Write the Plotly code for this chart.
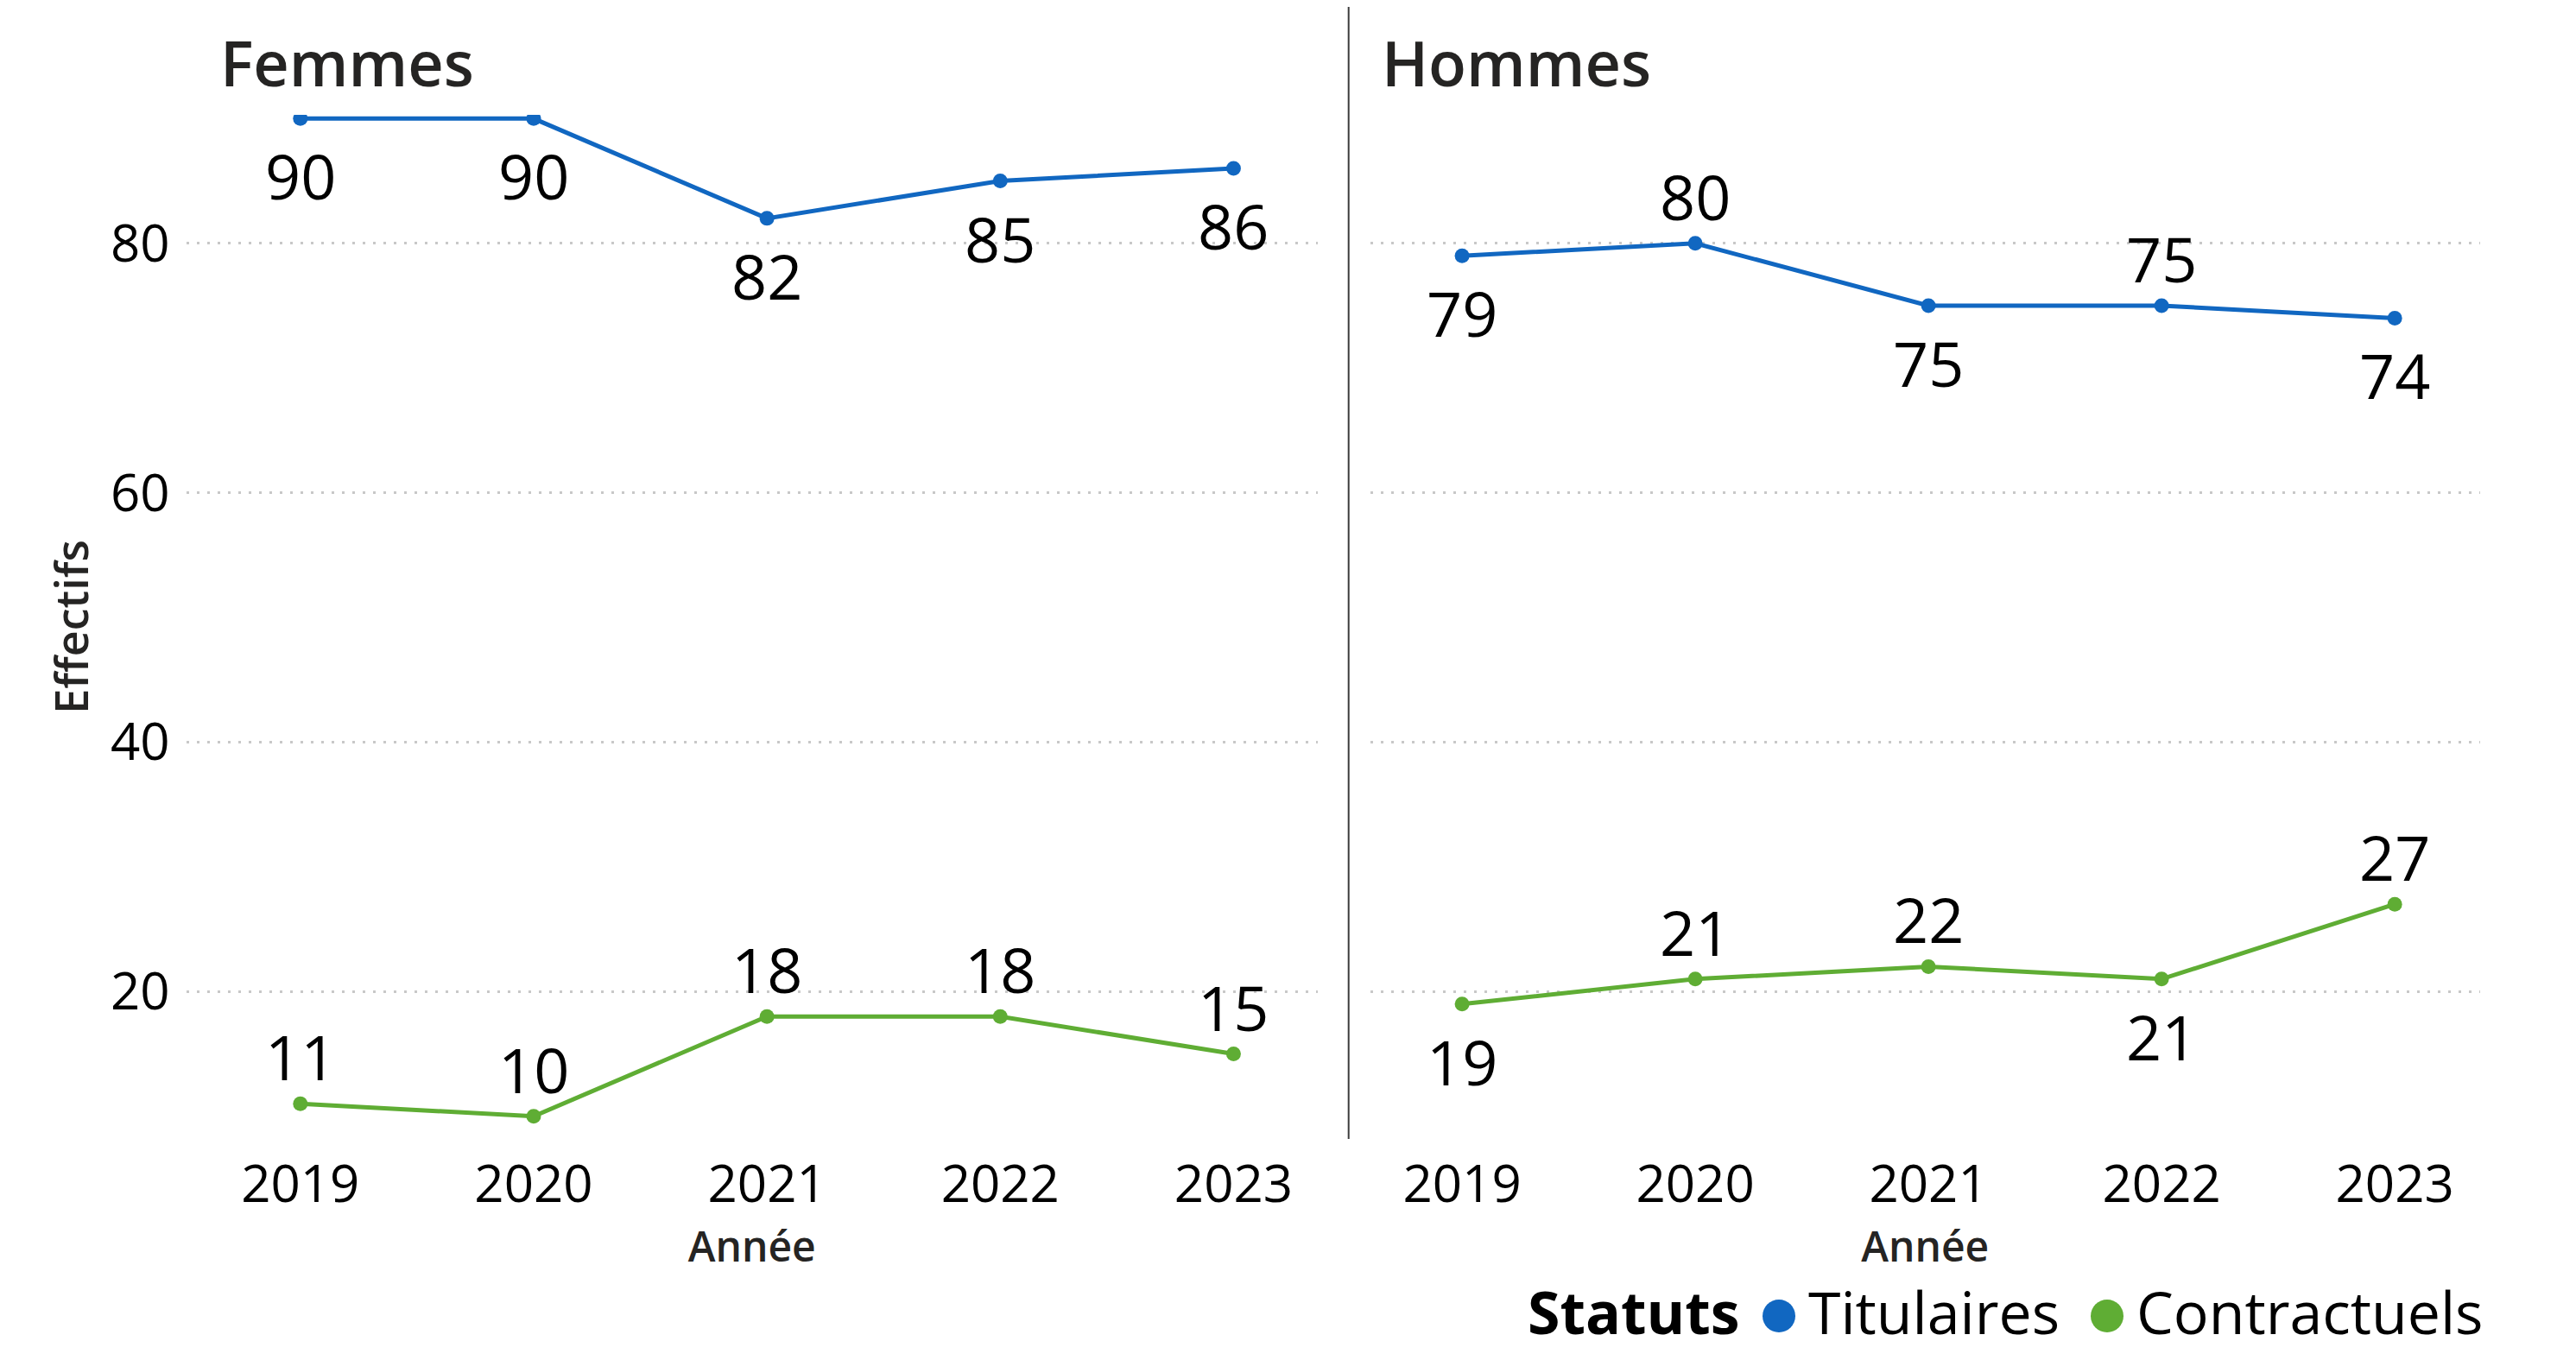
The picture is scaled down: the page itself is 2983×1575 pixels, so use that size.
import plotly.graph_objects as go

# ---- data ----
years = [2019, 2020, 2021, 2022, 2023]
year_labels = ["2019", "2020", "2021", "2022", "2023"]
femmes_titulaires = [90, 90, 82, 85, 86]
femmes_contractuels = [11, 10, 18, 18, 15]
hommes_titulaires = [79, 80, 75, 75, 74]
hommes_contractuels = [19, 21, 22, 21, 27]
series_names = ["Titulaires", "Contractuels"]
panel_titles = ["Femmes", "Hommes"]
legend_title = "Statuts"
y_ticks = [20, 40, 60, 80]

# label placement (style): -1 below the point, +1 above
side_ft = [-1, -1, -1, -1, -1]
side_fc = [1, 1, 1, 1, 1]
side_ht = [-1, 1, -1, 1, -1]
side_hc = [-1, 1, 1, -1, 1]

OFF = 8                      # browser body margin
W, H = 2983 - 2 * OFF, 1575 - 2 * OFF
BLUE = "#1167C1"
GREEN = "#5FAD34"
FONT = "Open Sans"
TXT = "#252423"


def px_x(v):
    return (v - OFF) / W


def px_y(v):
    return 1 - (v - OFF) / H


fig = go.Figure()
annotations = []


def add_line(xa, ya, vals, color, name, sides):
    fig.add_trace(go.Scatter(
        x=years, y=vals, xaxis=xa, yaxis=ya, name=name,
        mode="lines+markers",
        line=dict(color=color, width=5),
        marker=dict(color=color, size=17),
        showlegend=False, cliponaxis=True, hoverinfo="skip",
    ))
    for yr, v, s in zip(years, vals, sides):
        annotations.append(dict(
            x=yr, y=v, xref=xa, yref=ya, text=str(v), showarrow=False,
            xanchor="center", yanchor="middle",
            yshift=55 if s > 0 else -66,
            font=dict(family=FONT, size=72, color="#000000"),
        ))


add_line("x", "y", femmes_titulaires, BLUE, series_names[0], side_ft)
add_line("x", "y", femmes_contractuels, GREEN, series_names[1], side_fc)
add_line("x2", "y2", hommes_titulaires, BLUE, series_names[0], side_ht)
add_line("x2", "y2", hommes_contractuels, GREEN, series_names[1], side_hc)

ydom = [px_y(1319), px_y(133)]
yrange = [8.18, 90.3]
grid = dict(showgrid=True, gridcolor="#C8C8C8", gridwidth=3, griddash="3px,9px")
xtitle = dict(text="Année", standoff=10,
              font=dict(family=FONT, size=48, color=TXT, weight=600))
tickf = dict(family=FONT, size=60, color="#000000")
xcommon = dict(type="linear", tickvals=years, ticktext=year_labels, showgrid=False,
               zeroline=False, showline=False, ticks="", ticklabelstandoff=12,
               tickfont=tickf, title=xtitle)

fig.update_layout(
    width=W, height=H,
    margin=dict(l=0, r=0, t=0, b=0, autoexpand=False),
    paper_bgcolor="white", plot_bgcolor="white",
    font=dict(family=FONT, color="#000000"),
    showlegend=False,
    xaxis=dict(domain=[px_x(215.7), px_x(1525.7)], anchor="y",
               range=[2019 - 0.489, 2023.36], **xcommon),
    xaxis2=dict(domain=[px_x(1586.7), px_x(2871.7)], anchor="y2",
                range=[2019 - 0.394, 2023.365], **xcommon),
    yaxis=dict(domain=ydom, range=yrange, tickvals=y_ticks, zeroline=False,
               showline=False, ticks="", ticklabelstandoff=18, anchor="x",
               tickfont=tickf,
               title=dict(text="Effectifs", standoff=8,
                          font=dict(family=FONT, size=52, color=TXT, weight=600)),
               **grid),
    yaxis2=dict(domain=ydom, range=yrange, tickvals=y_ticks, zeroline=False,
                showline=False, ticks="", showticklabels=False, anchor="x2",
                **grid),
)

# panel titles
for t, xl in zip(panel_titles, [253, 1598]):
    annotations.append(dict(text=t, xref="paper", yref="paper", x=px_x(xl), y=px_y(72),
                            xanchor="left", yanchor="middle", showarrow=False,
                            font=dict(family=FONT, size=72, color=TXT, weight=600)))

# legend (title, dots and names)
LEG_FONT = 68
annotations.append(dict(text="<b>" + legend_title + "</b>", xref="paper", yref="paper",
                        x=px_x(1767), y=0, xanchor="left", yanchor="bottom",
                        showarrow=False, font=dict(family=FONT, size=LEG_FONT, color="#000000")))
shapes = []
for nm, col, xdot, xtxt in zip(series_names, [BLUE, GREEN], [2060, 2440], [2092, 2472]):
    shapes.append(dict(type="circle", xref="paper", yref="paper",
                       xsizemode="pixel", ysizemode="pixel",
                       xanchor=px_x(xdot), yanchor=px_y(1524),
                       x0=-19, x1=19, y0=-19, y1=19,
                       fillcolor=col, line=dict(width=0)))
    annotations.append(dict(text=nm, xref="paper", yref="paper",
                            x=px_x(xtxt), y=0, xanchor="left", yanchor="bottom",
                            showarrow=False, font=dict(family=FONT, size=LEG_FONT, color="#000000")))

# separator
shapes.append(dict(type="line", xref="paper", yref="paper",
                   x0=px_x(1561.7), x1=px_x(1561.7), y0=px_y(1319), y1=1,
                   line=dict(color="#3C3C3C", width=2)))

fig.update_layout(annotations=annotations, shapes=shapes)

fig.write_html("out.html")
